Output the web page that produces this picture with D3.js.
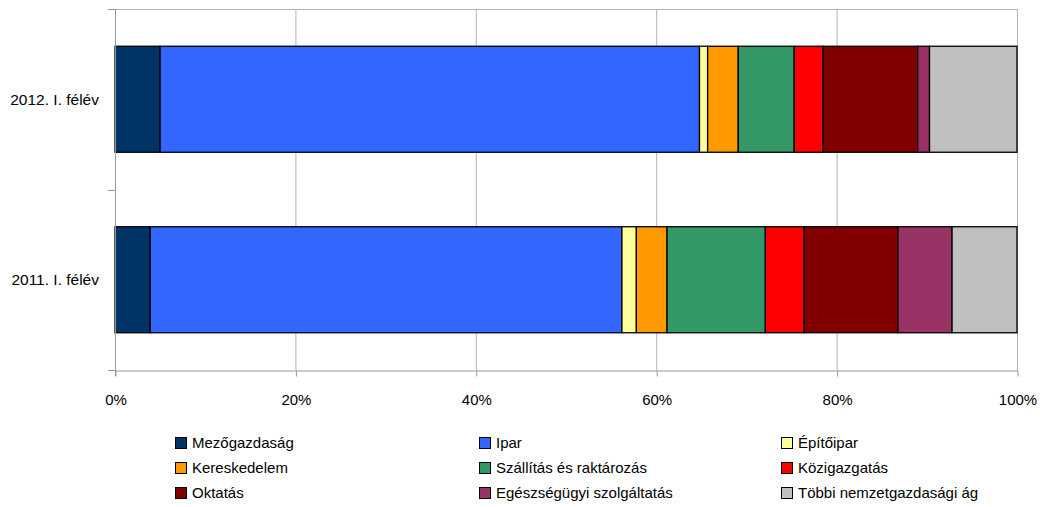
<!DOCTYPE html>
<html>
<head>
<meta charset="utf-8">
<script src="https://cdn.jsdelivr.net/npm/d3@7"></script>
<style>
  html, body { margin: 0; padding: 0; background: #fff; }
  svg { display: block; font-family: "Liberation Sans", Arial, sans-serif; }
</style>
</head>
<body>
<svg id="chart" width="1040" height="507"></svg>
<script>
const categories = ["2012. I. félév", "2011. I. félév"];
const seriesNames = ["Mezőgazdaság", "Ipar", "Építőipar", "Kereskedelem", "Szállítás és raktározás", "Közigazgatás", "Oktatás", "Egészségügyi szolgáltatás", "Többi nemzetgazdasági ág"];
const colors = ["#003366", "#3366FF", "#FFFF99", "#FF9900", "#339966", "#FF0000", "#800000", "#993366", "#C0C0C0"];
// shares in percent, per category (same order as categories)
const values2012 = [5.0, 59.8, 0.9, 3.4, 6.2, 3.2, 10.5, 1.3, 9.7];
const values2011 = [3.9, 52.3, 1.6, 3.4, 10.9, 4.3, 10.4, 6.0, 7.2];
const tickValues = [0, 20, 40, 60, 80, 100];

const rows = [values2012, values2011];
const svg = d3.select("#chart");
const pLeft = 115, pRight = 1017, pTop = 9, pBottom = 370;

const x = d3.scaleLinear().domain([0, 100]).range([pLeft, pRight]);
const y = d3.scaleBand().domain(categories).range([pTop, pBottom]).paddingInner(0.4127).paddingOuter(0.4127 / 2);

// gridlines
svg.append("g").selectAll("line").data(tickValues.slice(1)).join("line")
  .attr("x1", d => x(d) + 0.5).attr("x2", d => x(d) + 0.5)
  .attr("y1", pTop).attr("y2", pBottom)
  .attr("stroke", "#b3b3b3").attr("stroke-width", 1);
svg.append("line").attr("x1", pLeft).attr("x2", pRight).attr("y1", pTop + 0.5).attr("y2", pTop + 0.5)
  .attr("stroke", "#b3b3b3");

// bars
rows.forEach((vals, i) => {
  const cat = categories[i];
  const stacked = [];
  let acc = 0;
  vals.forEach((v, j) => { stacked.push({ x0: acc, x1: acc + v, c: colors[j] }); acc += v; });
  const total = acc;
  svg.append("g").selectAll("rect").data(stacked).join("rect")
    .attr("x", d => x(d.x0 / total * 100))
    .attr("width", d => x(d.x1 / total * 100) - x(d.x0 / total * 100))
    .attr("y", y(cat))
    .attr("height", y.bandwidth())
    .attr("fill", d => d.c)
    .attr("stroke", "#000").attr("stroke-width", 1.3);
});

// x axis
const xAxis = svg.append("g").attr("transform", `translate(0.5,${pBottom + 0.5})`)
  .call(d3.axisBottom(x).tickValues(tickValues).tickFormat(d => d + "%").tickSize(6).tickSizeOuter(0));
xAxis.select(".domain").attr("stroke", "#999");
xAxis.selectAll(".tick line").attr("stroke", "#999");
xAxis.selectAll(".tick text").attr("font-size", 15).attr("fill", "#000").attr("y", 24).attr("dy", "0.71em")
  .attr("font-family", "'Liberation Sans', Arial, sans-serif");

// y axis
const yAxisG = svg.append("g");
yAxisG.append("line").attr("x1", pLeft + 0.5).attr("x2", pLeft + 0.5).attr("y1", pTop).attr("y2", pBottom + 6).attr("stroke", "#999");
const bounds = [pTop, pTop + y.step(), pBottom];
yAxisG.selectAll("line.tk").data(bounds).join("line").attr("class", "tk")
  .attr("x1", pLeft - 7).attr("x2", pLeft).attr("y1", d => Math.round(d) + 0.5).attr("y2", d => Math.round(d) + 0.5)
  .attr("stroke", "#999");
yAxisG.selectAll("text").data(categories).join("text")
  .attr("x", pLeft - 16).attr("y", d => y(d) + y.bandwidth() / 2)
  .attr("dy", "0.35em").attr("text-anchor", "end").attr("font-size", 15.5).attr("fill", "#000")
  .text(d => d);

// legend
const colX = [175, 479, 781];
const rowY = [443, 468, 493];
const leg = svg.append("g").selectAll("g").data(seriesNames).join("g")
  .attr("transform", (d, i) => `translate(${colX[i % 3]},${rowY[Math.floor(i / 3)]})`);
leg.append("rect").attr("x", 0.5).attr("y", -5.5).attr("width", 11).attr("height", 11)
  .attr("fill", (d, i) => colors[i]).attr("stroke", "#000").attr("stroke-width", 1);
leg.append("text").attr("x", 17).attr("y", 0).attr("dy", "0.35em").attr("font-size", 15).attr("fill", "#000")
  .text(d => d);
</script>
</body>
</html>
